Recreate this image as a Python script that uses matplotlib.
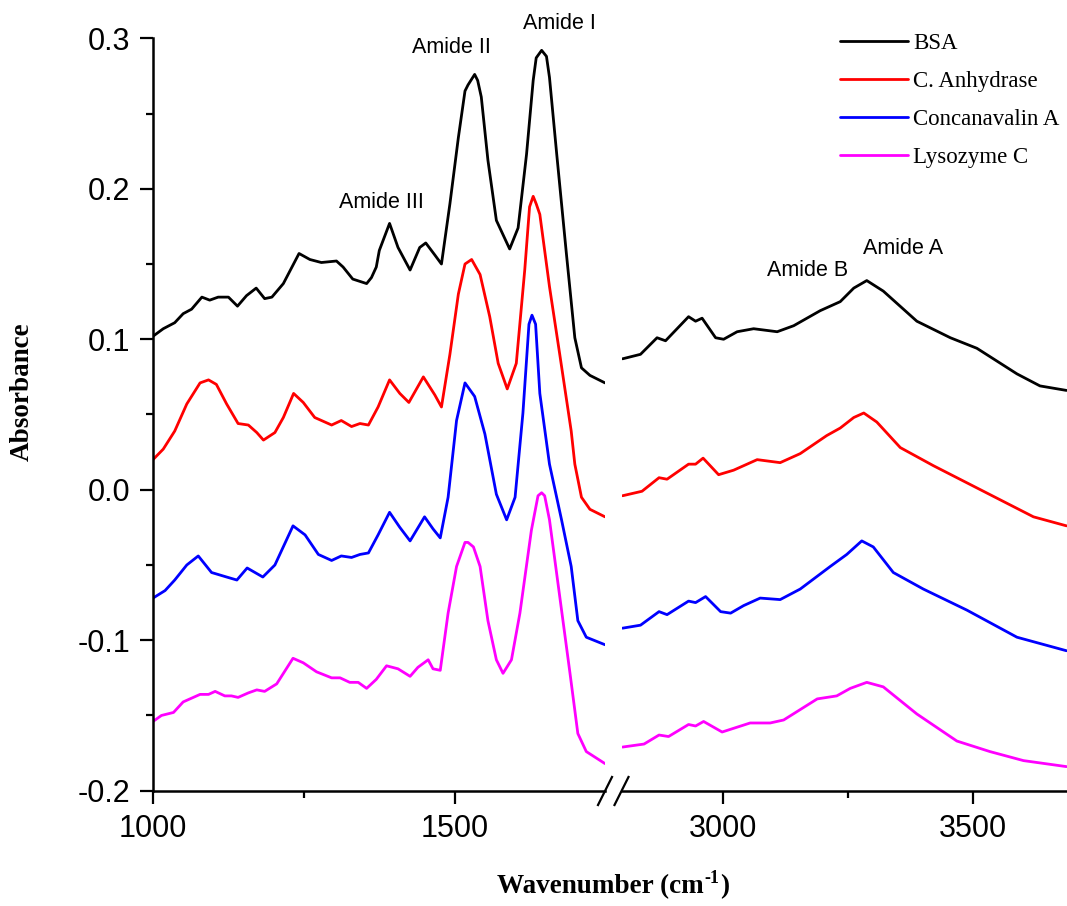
import matplotlib
matplotlib.use("Agg")
import matplotlib.pyplot as plt
from matplotlib.ticker import FixedLocator

# FTIR spectra, fingerprint region (1000-1750 cm-1) and N-H/O-H stretch region (2800-3700 cm-1)
bsa_lo_wn = [1000, 1017, 1036, 1050, 1064, 1081, 1094, 1108, 1125, 1140, 1155, 1171, 1185, 1197,
             1216, 1242, 1260, 1279, 1304, 1315, 1331, 1354, 1362, 1370, 1375, 1392, 1406, 1426,
             1442, 1452, 1467, 1478, 1492, 1506, 1517, 1522, 1533, 1538, 1544, 1555, 1569, 1591,
             1605, 1619, 1630, 1635, 1644, 1652, 1657, 1669, 1685, 1699, 1710, 1724, 1749]
bsa_lo_abs = [0.102, 0.107, 0.111, 0.117, 0.120, 0.128, 0.126, 0.128, 0.128, 0.122, 0.129, 0.134,
              0.127, 0.128, 0.137, 0.157, 0.153, 0.151, 0.152, 0.148, 0.140, 0.137, 0.141, 0.148,
              0.159, 0.177, 0.161, 0.146, 0.161, 0.164, 0.156, 0.150, 0.190, 0.234, 0.265, 0.269,
              0.276, 0.272, 0.261, 0.219, 0.179, 0.160, 0.174, 0.223, 0.272, 0.287, 0.292, 0.288,
              0.274, 0.223, 0.157, 0.101, 0.081, 0.076, 0.071]
bsa_hi_wn = [2799, 2835, 2868, 2885, 2931, 2945, 2958, 2985, 3001, 3028, 3061, 3108, 3141, 3194,
             3234, 3261, 3287, 3320, 3387, 3454, 3507, 3587, 3633, 3686]
bsa_hi_abs = [0.087, 0.090, 0.101, 0.099, 0.115, 0.112, 0.114, 0.101, 0.100, 0.105, 0.107, 0.105,
              0.109, 0.119, 0.125, 0.134, 0.139, 0.132, 0.112, 0.101, 0.094, 0.077, 0.069, 0.066]

ca_lo_wn = [1000, 1017, 1036, 1056, 1078, 1092, 1105, 1122, 1141, 1158, 1172, 1183, 1202, 1216,
            1233, 1249, 1268, 1296, 1312, 1329, 1343, 1357, 1373, 1392, 1409, 1424, 1448, 1467,
            1478, 1492, 1506, 1517, 1528, 1542, 1558, 1572, 1587, 1602, 1616, 1624, 1630, 1635,
            1641, 1657, 1674, 1693, 1699, 1710, 1724, 1749]
ca_lo_abs = [0.020, 0.027, 0.039, 0.057, 0.071, 0.073, 0.070, 0.057, 0.044, 0.043, 0.038, 0.033,
             0.038, 0.048, 0.064, 0.058, 0.048, 0.043, 0.046, 0.042, 0.044, 0.043, 0.055, 0.073,
             0.064, 0.058, 0.075, 0.063, 0.055, 0.090, 0.130, 0.150, 0.153, 0.143, 0.115, 0.084,
             0.067, 0.084, 0.146, 0.188, 0.195, 0.190, 0.183, 0.135, 0.090, 0.039, 0.017, -0.005,
             -0.013, -0.018]
ca_hi_wn = [2799, 2838, 2872, 2888, 2931, 2945, 2960, 2991, 3021, 3068, 3114, 3154, 3207, 3234,
            3261, 3281, 3307, 3354, 3420, 3520, 3620, 3686]
ca_hi_abs = [-0.004, -0.001, 0.008, 0.007, 0.017, 0.017, 0.021, 0.010, 0.013, 0.020, 0.018, 0.024,
             0.036, 0.041, 0.048, 0.051, 0.045, 0.028, 0.016, -0.001, -0.018, -0.024]

cona_lo_wn = [1000, 1020, 1036, 1056, 1075, 1097, 1122, 1139, 1156, 1182, 1202, 1232, 1252, 1274,
              1296, 1312, 1329, 1343, 1357, 1373, 1392, 1409, 1426, 1450, 1464, 1476, 1489, 1503,
              1517, 1533, 1550, 1569, 1586, 1600, 1613, 1623, 1628, 1634, 1641, 1657, 1677, 1693,
              1704, 1718, 1749]
cona_lo_abs = [-0.072, -0.067, -0.060, -0.050, -0.044, -0.055, -0.058, -0.060, -0.052, -0.058,
               -0.050, -0.024, -0.030, -0.043, -0.047, -0.044, -0.045, -0.043, -0.042, -0.030,
               -0.015, -0.025, -0.034, -0.018, -0.026, -0.032, -0.005, 0.046, 0.071, 0.062, 0.037,
               -0.003, -0.020, -0.005, 0.051, 0.110, 0.116, 0.110, 0.064, 0.017, -0.020, -0.051,
               -0.087, -0.098, -0.103]
cona_hi_wn = [2799, 2835, 2872, 2888, 2931, 2945, 2965, 2995, 3015, 3041, 3074, 3114, 3154, 3214,
              3247, 3277, 3300, 3340, 3400, 3487, 3587, 3686]
cona_hi_abs = [-0.092, -0.090, -0.081, -0.083, -0.074, -0.075, -0.071, -0.081, -0.082, -0.077,
               -0.072, -0.073, -0.066, -0.051, -0.043, -0.034, -0.038, -0.055, -0.066, -0.080,
               -0.098, -0.107]

lys_lo_wn = [1000, 1014, 1034, 1050, 1078, 1092, 1103, 1119, 1130, 1141, 1158, 1172, 1185, 1205,
             1232, 1249, 1271, 1296, 1310, 1326, 1340, 1354, 1370, 1387, 1406, 1426, 1439, 1456,
             1464, 1476, 1489, 1503, 1517, 1522, 1531, 1542, 1555, 1569, 1580, 1594, 1608, 1627,
             1638, 1644, 1649, 1657, 1674, 1691, 1704, 1718, 1749]
lys_lo_abs = [-0.154, -0.150, -0.148, -0.141, -0.136, -0.136, -0.134, -0.137, -0.137, -0.138,
              -0.135, -0.133, -0.134, -0.129, -0.112, -0.115, -0.121, -0.125, -0.125, -0.128,
              -0.128, -0.132, -0.126, -0.117, -0.119, -0.124, -0.118, -0.113, -0.119, -0.120,
              -0.082, -0.051, -0.035, -0.035, -0.038, -0.051, -0.087, -0.113, -0.122, -0.113,
              -0.082, -0.027, -0.004, -0.002, -0.004, -0.020, -0.071, -0.122, -0.162, -0.174,
              -0.182]
lys_hi_wn = [2799, 2842, 2872, 2891, 2931, 2945, 2961, 2998, 3054, 3094, 3121, 3188, 3227, 3254,
             3287, 3320, 3387, 3467, 3533, 3600, 3686]
lys_hi_abs = [-0.171, -0.169, -0.163, -0.164, -0.156, -0.157, -0.154, -0.161, -0.155, -0.155,
              -0.153, -0.139, -0.137, -0.132, -0.128, -0.131, -0.149, -0.167, -0.174, -0.180,
              -0.184]

names = ["BSA", "C. Anhydrase", "Concanavalin A", "Lysozyme C"]
colors = ["#000000", "#ff0000", "#0000ff", "#ff00ff"]
low = [(bsa_lo_wn, bsa_lo_abs), (ca_lo_wn, ca_lo_abs), (cona_lo_wn, cona_lo_abs), (lys_lo_wn, lys_lo_abs)]
high = [(bsa_hi_wn, bsa_hi_abs), (ca_hi_wn, ca_hi_abs), (cona_hi_wn, cona_hi_abs), (lys_hi_wn, lys_hi_abs)]

# band labels: (text, wavenumber, absorbance)
bands_lo = [("Amide III", 1379, 0.191), ("Amide II", 1495, 0.294), ("Amide I", 1674, 0.310)]
bands_hi = [("Amide B", 3168, 0.146), ("Amide A", 3360, 0.160)]

sans = ["Liberation Sans", "DejaVu Sans"]
serif = ["Liberation Serif", "DejaVu Serif"]
plt.rcParams["font.family"] = sans

fig = plt.figure(figsize=(10.67, 9.06), dpi=100)
W, H = 1067, 906
bottom = 1 - 790.7 / H
height = (790.7 - 38.3) / H
ax1 = fig.add_axes([153 / W, bottom, (605 - 153) / W, height])
ax2 = fig.add_axes([622 / W, bottom, (1067 - 622) / W, height], sharey=ax1)

for (x, y), c, n in zip(low, colors, names):
    ax1.plot(x, y, color=c, lw=2.0, label=n, solid_joinstyle="round", solid_capstyle="round")
for (x, y), c in zip(high, colors):
    ax2.plot(x, y, color=c, lw=2.0, solid_joinstyle="round", solid_capstyle="round")

ax1.set_xlim(1000, 1749)
ax2.set_xlim(2798, 3687)
ax1.set_ylim(-0.2, 0.3)

ax1.xaxis.set_major_locator(FixedLocator([1000, 1500]))
ax1.xaxis.set_minor_locator(FixedLocator([1250]))
ax2.xaxis.set_major_locator(FixedLocator([3000, 3500]))
ax2.xaxis.set_minor_locator(FixedLocator([3250]))
ax1.yaxis.set_major_locator(FixedLocator([-0.2, -0.1, 0.0, 0.1, 0.2, 0.3]))
ax1.yaxis.set_minor_locator(FixedLocator([-0.15, -0.05, 0.05, 0.15, 0.25]))
ax1.set_yticklabels(["-0.2", "-0.1", "0.0", "0.1", "0.2", "0.3"])

for ax in (ax1, ax2):
    for s in ("top", "right"):
        ax.spines[s].set_visible(False)
    ax.spines["bottom"].set_linewidth(1.8)
    ax.spines["left"].set_linewidth(1.8)
    ax.tick_params(which="major", direction="out", length=9.5, width=1.6, labelsize=22, pad=7)
    ax.tick_params(which="minor", direction="out", length=5, width=1.6)
    ax.patch.set_alpha(0)
ax2.spines["left"].set_visible(False)
ax2.tick_params(axis="y", which="both", left=False, labelleft=False)

# axis break marks
for xc in (605, 621.5):
    fig.add_artist(plt.Line2D([(xc - 7) / W, (xc + 7) / W], [1 - 805 / H, 1 - 777 / H],
                              transform=fig.transFigure, color="black", lw=1.6))

for t, x, y in bands_lo:
    ax1.text(x, y, t, ha="center", va="center", fontsize=15.5, clip_on=False)
for t, x, y in bands_hi:
    ax2.text(x, y, t, ha="center", va="center", fontsize=15.5, clip_on=False)

# x label built from pieces so the superscript stays in the serif face
lab = dict(fontweight="bold", family=serif)
xl = fig.text(497 / W, 1 - 893 / H, "Wavenumber (cm", ha="left", va="baseline", fontsize=19.5, **lab)
sup = ax1.annotate("-1", xy=(1, 1), xycoords=xl, xytext=(0.5, 3), textcoords="offset points",
                   ha="left", va="top", fontsize=13, annotation_clip=False, **lab)
ax1.annotate(")", xy=(1, 0), xycoords=(sup, xl), xytext=(0.5, 0), textcoords="offset points",
             ha="left", va="bottom", fontsize=19.5, annotation_clip=False, **lab)
fig.text(22 / W, 1 - 392 / H, "Absorbance", ha="center", va="center", rotation=90,
         fontsize=19.5, **lab)

fig.legend(loc="upper left", bbox_to_anchor=(840 / W, 1 - 33 / H), frameon=False,
           prop={"family": serif, "size": 16.5}, handlelength=2.95, handletextpad=0.25,
           labelspacing=0.74, borderpad=0, borderaxespad=0)

fig.savefig("out.png", dpi=100)
